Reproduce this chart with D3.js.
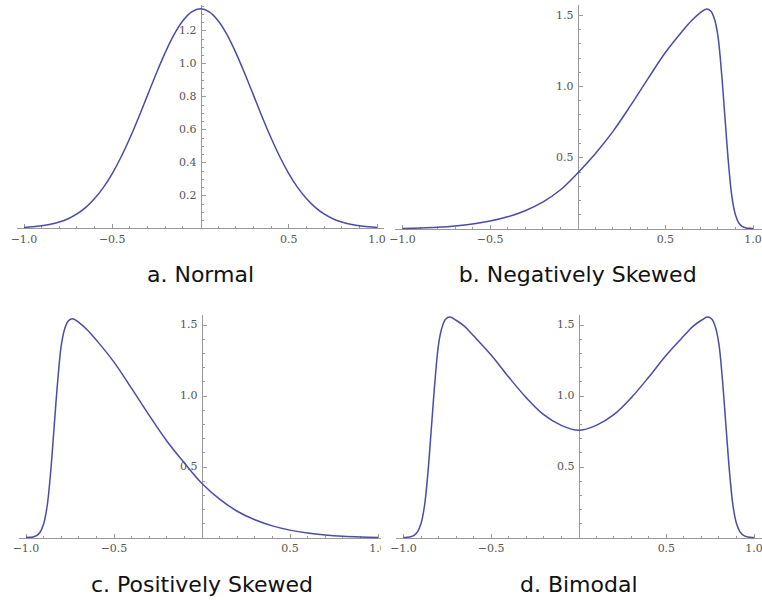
<!DOCTYPE html>
<html>
<head>
<meta charset="utf-8">
<script src="https://cdn.jsdelivr.net/npm/d3@7"></script>
<style>
  body { margin: 0; background: #fff; }
  .tick-label { font-family: "DejaVu Serif", serif; font-size: 11px; fill: #555; }
  .title { font-family: "DejaVu Sans", sans-serif; font-size: 22px; fill: #111; }
  .axis-line { stroke: #999; stroke-width: 1; shape-rendering: crispEdges; }
  .tick { stroke: #999; stroke-width: 1; shape-rendering: crispEdges; }
  .curve { fill: none; stroke: #4b4ba8; stroke-width: 1.5; }
</style>
</head>
<body>
<svg width="762" height="600"></svg>
<script>
'use strict';

// ---- data ----
const titles = ["a. Normal", "b. Negatively Skewed", "c. Positively Skewed", "d. Bimodal"];

const xTickLabels = [-1, -0.5, 0.5, 1];
const yTickLabelsNormal = [0.2, 0.4, 0.6, 0.8, 1.0, 1.2];
const yTickLabelsSkew = [0.5, 1.0, 1.5];

const normalX = [-1, -0.95, -0.9, -0.85, -0.8, -0.75, -0.7, -0.65, -0.6, -0.55, -0.5,
  -0.45, -0.4, -0.35, -0.3, -0.25, -0.2, -0.15, -0.1, -0.05, 0,
  0.05, 0.1, 0.15, 0.2, 0.25, 0.3, 0.35, 0.4, 0.45, 0.5,
  0.55, 0.6, 0.65, 0.7, 0.75, 0.8, 0.85, 0.9, 0.95, 1];
const normalY = [0.005, 0.009, 0.015, 0.024, 0.038, 0.058, 0.087, 0.127, 0.180, 0.248, 0.332,
  0.432, 0.547, 0.673, 0.807, 0.940, 1.065, 1.174, 1.258, 1.312, 1.330,
  1.312, 1.258, 1.174, 1.065, 0.940, 0.807, 0.673, 0.547, 0.432, 0.332,
  0.248, 0.180, 0.127, 0.087, 0.058, 0.038, 0.024, 0.015, 0.009, 0.005];

const negX = [-1, -0.9, -0.8, -0.7, -0.6, -0.5, -0.4, -0.3, -0.2, -0.1,
  0, 0.1, 0.2, 0.3, 0.4, 0.5, 0.6, 0.65, 0.7, 0.735,
  0.76, 0.78, 0.8, 0.82, 0.84, 0.86, 0.88, 0.9, 0.92, 0.94,
  0.96, 0.98, 1];
const negY = [0, 0.003, 0.008, 0.017, 0.031, 0.052, 0.082, 0.125, 0.185, 0.27,
  0.39, 0.525, 0.68, 0.86, 1.05, 1.235, 1.39, 1.46, 1.515, 1.54,
  1.525, 1.47, 1.35, 1.10, 0.78, 0.46, 0.22, 0.095, 0.037, 0.013,
  0.004, 0.001, 0];

const posX = [-1, -0.98, -0.96, -0.94, -0.92, -0.9, -0.88, -0.86, -0.84, -0.82,
  -0.8, -0.78, -0.76, -0.735, -0.7, -0.65, -0.6, -0.5, -0.4, -0.3,
  -0.2, -0.1, 0, 0.1, 0.2, 0.3, 0.4, 0.5, 0.6, 0.7,
  0.8, 0.9, 1];
const posY = [0, 0.001, 0.004, 0.013, 0.037, 0.095, 0.22, 0.46, 0.78, 1.10,
  1.35, 1.47, 1.525, 1.54, 1.515, 1.46, 1.39, 1.235, 1.05, 0.86,
  0.68, 0.525, 0.38, 0.27, 0.185, 0.125, 0.082, 0.052, 0.031, 0.017,
  0.008, 0.003, 0];

const bimodalX = [-1, -0.98, -0.96, -0.94, -0.92, -0.9, -0.88, -0.86, -0.84, -0.82,
  -0.8, -0.78, -0.76, -0.735, -0.7, -0.65, -0.6, -0.5, -0.4, -0.3,
  -0.2, -0.1, 0, 0.1, 0.2, 0.3, 0.4, 0.5, 0.6, 0.65,
  0.7, 0.735, 0.76, 0.78, 0.8, 0.82, 0.84, 0.86, 0.88, 0.9,
  0.92, 0.94, 0.96, 0.98, 1];
const bimodalY = [0, 0.002, 0.005, 0.015, 0.04, 0.098, 0.225, 0.466, 0.787, 1.108,
  1.36, 1.48, 1.537, 1.552, 1.53, 1.485, 1.42, 1.285, 1.13, 0.985,
  0.865, 0.79, 0.755, 0.79, 0.865, 0.985, 1.13, 1.285, 1.42, 1.485,
  1.53, 1.552, 1.537, 1.48, 1.36, 1.108, 0.787, 0.466, 0.225, 0.098,
  0.04, 0.015, 0.005, 0.002, 0];

// ---- layout of the four panels ----
const panels = [
  { title: titles[0], xs: normalX, ys: normalY, yLabels: yTickLabelsNormal, yMajor: 0.2, yMinor: 0.05,
    xRange: [24, 377], y0: 228.3, yUnit: 165, yTop: 1.353, axisEnd: 384,
    clip: [0, 0, 386, 300], titleY: 282 },
  { title: titles[1], xs: negX, ys: negY, yLabels: yTickLabelsSkew, yMajor: 0.5, yMinor: 0.1,
    xRange: [402.5, 753], y0: 228.5, yUnit: 142.5, yTop: 1.57, axisEnd: 762,
    clip: [386, 0, 376, 300], titleY: 282 },
  { title: titles[2], xs: posX, ys: posY, yLabels: yTickLabelsSkew, yMajor: 0.5, yMinor: 0.1,
    xRange: [26, 378], y0: 537.5, yUnit: 142, yTop: 1.567, axisEnd: 384,
    clip: [0, 300, 381, 300], titleY: 592 },
  { title: titles[3], xs: bimodalX, ys: bimodalY, yLabels: yTickLabelsSkew, yMajor: 0.5, yMinor: 0.1,
    xRange: [403.5, 754], y0: 537.5, yUnit: 142, yTop: 1.567, axisEnd: 762,
    clip: [381, 300, 381, 300], titleY: 592 }
];

const svg = d3.select('svg');
const fmt = d3.format('.1f');
const defs = svg.append('defs');

panels.forEach((p, i) => {
  const clipId = `clip-${i}`;
  defs.append('clipPath').attr('id', clipId)
    .append('rect')
    .attr('x', p.clip[0]).attr('y', p.clip[1])
    .attr('width', p.clip[2]).attr('height', p.clip[3]);

  const x = d3.scaleLinear().domain([-1, 1]).range(p.xRange);
  const y = d3.scaleLinear().domain([0, 1]).range([p.y0, p.y0 - p.yUnit]);

  const g = svg.append('g').attr('clip-path', `url(#${clipId})`);

  // x axis line + ticks (pointing up)
  g.append('line').attr('class', 'axis-line')
    .attr('x1', x(-1.04)).attr('x2', p.axisEnd)
    .attr('y1', Math.round(y(0)) + 0.5).attr('y2', Math.round(y(0)) + 0.5);

  const xMinor = d3.range(-10, 11).map(k => k / 10).filter(v => v !== 0);
  g.selectAll('.xtick').data(xMinor).enter().append('line')
    .attr('class', 'tick')
    .attr('x1', d => x(d)).attr('x2', d => x(d))
    .attr('y1', Math.round(y(0)))
    .attr('y2', d => Math.round(y(0)) - (Math.abs(d * 2 - Math.round(d * 2)) < 1e-9 ? 4 : 2.5));

  g.selectAll('.xlabel').data(xTickLabels).enter().append('text')
    .attr('class', 'tick-label')
    .attr('x', d => x(d)).attr('y', y(0) + 14.5)
    .attr('text-anchor', 'middle')
    .text(d => fmt(d));

  // y axis line + ticks (pointing right)
  const ax = Math.round(x(0)) + 0.5;
  g.append('line').attr('class', 'axis-line')
    .attr('x1', ax).attr('x2', ax)
    .attr('y1', y(0)).attr('y2', y(p.yTop));

  const nMinor = Math.floor(p.yTop / p.yMinor + 1e-9);
  const yMinorTicks = d3.range(1, nMinor + 1).map(k => +(k * p.yMinor).toFixed(3));
  g.selectAll('.ytick').data(yMinorTicks).enter().append('line')
    .attr('class', 'tick')
    .attr('x1', ax).attr('x2', d => {
      const r = d / p.yMajor;
      return ax + (Math.abs(r - Math.round(r)) < 1e-6 ? 4 : 2);
    })
    .attr('y1', d => Math.round(y(d)) + 0.5).attr('y2', d => Math.round(y(d)) + 0.5);

  g.selectAll('.ylabel').data(p.yLabels).enter().append('text')
    .attr('class', 'tick-label')
    .attr('x', ax - 5).attr('y', d => y(d))
    .attr('dy', '0.35em')
    .attr('text-anchor', 'end')
    .text(d => fmt(d));

  // the curve
  const line = d3.line()
    .curve(d3.curveCatmullRom.alpha(0.5))
    .x(d => x(d[0]))
    .y(d => y(Math.max(0, d[1])));
  g.append('path').attr('class', 'curve')
    .attr('d', line(p.xs.map((v, k) => [v, p.ys[k]])));

  // caption centred under the vertical axis
  svg.append('text').attr('class', 'title')
    .attr('x', x(0)).attr('y', p.titleY)
    .attr('text-anchor', 'middle')
    .text(p.title);
});
</script>
</body>
</html>
